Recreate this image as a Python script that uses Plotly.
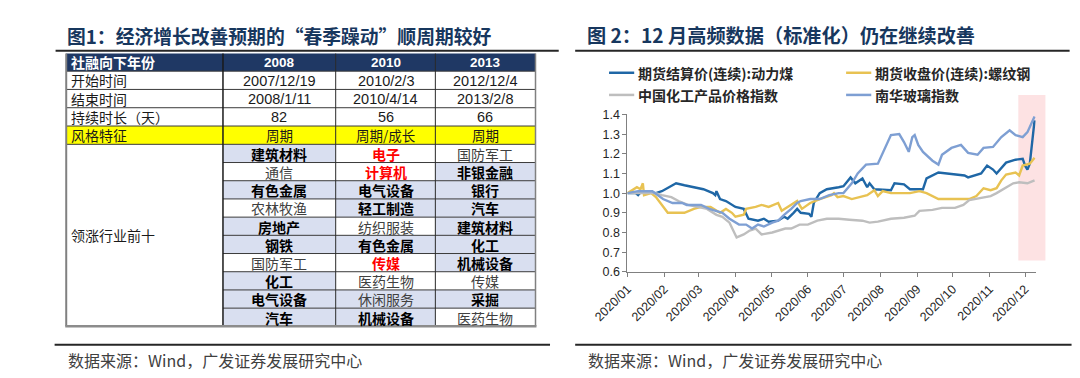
import plotly.graph_objects as go

W, H = 1080, 378

# ---------------- data: table ----------------
header = ["社融向下年份", "2008", "2010", "2013"]
row_labels = ["开始时间", "结束时间", "持续时长（天）", "风格特征"]
start_dates = ["2007/12/19", "2010/2/3", "2012/12/4"]
end_dates = ["2008/1/11", "2010/4/14", "2013/2/8"]
durations = ["82", "56", "66"]
styles = ["周期", "周期/成长", "周期"]
lead_label = "领涨行业前十"
lead_2008 = ["建筑材料", "通信", "有色金属", "农林牧渔", "房地产", "钢铁", "国防军工", "化工", "电气设备", "汽车"]
lead_2010 = ["电子", "计算机", "电气设备", "轻工制造", "纺织服装", "有色金属", "传媒", "医药生物", "休闲服务", "机械设备"]
lead_2013 = ["国防军工", "非银金融", "银行", "汽车", "建筑材料", "化工", "机械设备", "传媒", "采掘", "医药生物"]
# b = bold (shaded), n = normal, r = red highlight
kind_2008 = ["b", "n", "b", "n", "b", "b", "n", "b", "b", "b"]
kind_2010 = ["r", "r", "b", "b", "n", "b", "r", "n", "n", "b"]
kind_2013 = ["n", "b", "b", "b", "b", "b", "b", "n", "b", "n"]
shade_2010 = [0, 0, 1, 1, 0, 1, 0, 0, 1, 1]

# ---------------- data: line chart ----------------
coal_dates = ["2020-01-01", "2020-01-08", "2020-01-10", "2020-01-13", "2020-01-25", "2020-01-30", "2020-02-05",
              "2020-02-11", "2020-02-18", "2020-02-26", "2020-03-05", "2020-03-13", "2020-03-15", "2020-03-16",
              "2020-03-19", "2020-03-24", "2020-04-01", "2020-04-08", "2020-04-12", "2020-04-20", "2020-04-25",
              "2020-04-29", "2020-05-07", "2020-05-12", "2020-05-15", "2020-05-20", "2020-05-23", "2020-05-26",
              "2020-06-02", "2020-06-04", "2020-06-06", "2020-06-11", "2020-06-17", "2020-06-27", "2020-07-01",
              "2020-07-07", "2020-07-11", "2020-07-17", "2020-07-21", "2020-07-23", "2020-07-27", "2020-08-10",
              "2020-08-13", "2020-08-21", "2020-08-26", "2020-09-06", "2020-09-09", "2020-09-19", "2020-09-28",
              "2020-10-11", "2020-10-14", "2020-10-25", "2020-10-30", "2020-11-04", "2020-11-07", "2020-11-15",
              "2020-11-23", "2020-11-29", "2020-12-01", "2020-12-03", "2020-12-05", "2020-12-09"]
coal_vals = [1.00, 1.00, 0.99, 1.01, 1.00, 1.01, 1.03,
             1.05, 1.04, 1.03, 1.02, 1.00, 0.99, 1.01,
             0.97, 0.96, 0.93, 0.92, 0.87, 0.86, 0.87,
             0.855, 0.86, 0.88, 0.87, 0.90, 0.92, 0.90,
             0.895, 0.88, 0.95, 1.00, 1.02, 1.03, 1.035,
             1.08, 1.05, 1.075, 1.03, 1.05, 1.02, 1.015,
             1.05, 1.045, 1.02, 1.02, 1.075, 1.105, 1.10,
             1.09, 1.08, 1.10, 1.14, 1.12, 1.10, 1.155,
             1.17, 1.175, 1.14, 1.12, 1.15, 1.37]

rebar_dates = ["2020-01-01", "2020-01-09", "2020-01-12", "2020-01-14", "2020-01-15", "2020-01-21", "2020-01-25",
               "2020-02-04", "2020-02-18", "2020-02-26", "2020-03-03", "2020-03-11", "2020-03-19", "2020-03-24",
               "2020-03-29", "2020-04-01", "2020-04-08", "2020-04-10", "2020-04-18", "2020-04-23", "2020-04-29",
               "2020-05-07", "2020-05-10", "2020-05-15", "2020-05-23", "2020-05-27", "2020-06-03", "2020-06-11",
               "2020-06-17", "2020-06-21", "2020-06-23", "2020-06-26", "2020-07-01", "2020-07-08", "2020-07-21",
               "2020-07-27", "2020-07-30", "2020-08-03", "2020-08-10", "2020-08-26", "2020-09-03", "2020-09-09",
               "2020-09-19", "2020-10-03", "2020-10-15", "2020-10-21", "2020-10-27", "2020-11-02", "2020-11-07",
               "2020-11-11", "2020-11-15", "2020-11-23", "2020-11-26", "2020-11-29", "2020-12-05", "2020-12-09"]
rebar_vals = [1.00, 1.03, 1.02, 1.05, 0.99, 1.00, 0.98,
              0.90, 0.90, 0.92, 0.93, 0.93, 0.90, 0.92,
              0.90, 0.88, 0.89, 0.92, 0.93, 0.94, 0.93,
              0.95, 0.91, 0.93, 0.96, 0.92, 0.95, 0.97,
              0.98, 0.99, 1.00, 0.98, 0.985, 0.97, 0.99,
              1.015, 0.985, 1.01, 1.00, 1.00, 1.01, 1.00,
              0.97, 0.97, 0.97, 0.985, 1.025, 1.015, 1.025,
              1.065, 1.095, 1.105, 1.09, 1.14, 1.15, 1.18]

chem_dates = ["2020-01-01", "2020-01-25", "2020-01-30", "2020-02-07", "2020-02-13", "2020-02-21", "2020-02-29",
              "2020-03-08", "2020-03-16", "2020-03-21", "2020-03-27", "2020-03-31", "2020-04-02", "2020-04-08",
              "2020-04-13", "2020-04-18", "2020-04-23", "2020-05-02", "2020-05-13", "2020-05-18", "2020-05-25",
              "2020-06-01", "2020-06-09", "2020-06-17", "2020-06-27", "2020-07-06", "2020-07-17", "2020-07-23",
              "2020-07-30", "2020-08-10", "2020-08-21", "2020-08-30", "2020-09-03", "2020-09-14", "2020-09-22",
              "2020-10-03", "2020-10-10", "2020-10-15", "2020-10-25", "2020-11-02", "2020-11-07", "2020-11-14",
              "2020-11-21", "2020-11-26", "2020-12-03", "2020-12-09"]
chem_vals = [1.00, 1.00, 0.99, 0.98, 0.96, 0.94, 0.93,
             0.92, 0.89, 0.88, 0.85, 0.80, 0.775, 0.79,
             0.81, 0.82, 0.79, 0.80, 0.82, 0.82, 0.84,
             0.84, 0.86, 0.87, 0.87, 0.865, 0.86, 0.85,
             0.855, 0.87, 0.875, 0.885, 0.91, 0.915, 0.925,
             0.925, 0.94, 0.965, 0.975, 0.985, 1.00, 1.025,
             1.05, 1.055, 1.05, 1.065]

glass_dates = ["2020-01-01", "2020-01-10", "2020-01-22", "2020-01-31", "2020-02-08", "2020-02-16", "2020-02-20",
               "2020-03-03", "2020-03-10", "2020-03-16", "2020-03-21", "2020-03-27", "2020-04-04", "2020-04-10",
               "2020-04-15", "2020-04-20", "2020-04-25", "2020-05-02", "2020-05-07", "2020-05-12", "2020-05-18",
               "2020-05-23", "2020-05-26", "2020-06-03", "2020-06-11", "2020-06-19", "2020-06-27", "2020-07-01",
               "2020-07-08", "2020-07-13", "2020-07-20", "2020-07-30", "2020-08-06", "2020-08-10", "2020-08-17",
               "2020-08-21", "2020-08-25", "2020-08-28", "2020-08-30", "2020-09-02", "2020-09-06", "2020-09-14",
               "2020-09-19", "2020-09-22", "2020-09-30", "2020-10-08", "2020-10-14", "2020-10-22", "2020-10-27",
               "2020-11-04", "2020-11-11", "2020-11-18", "2020-11-23", "2020-11-29", "2020-12-03", "2020-12-09"]
glass_vals = [1.00, 1.01, 1.01, 0.97, 0.95, 0.95, 0.94,
              0.94, 0.92, 0.91, 0.90, 0.87, 0.84, 0.84,
              0.82, 0.84, 0.83, 0.85, 0.86, 0.89, 0.92,
              0.95, 0.96, 0.97, 0.97, 0.99, 1.00, 1.00,
              1.05, 1.10, 1.145, 1.15, 1.245, 1.295, 1.30,
              1.26, 1.21, 1.285, 1.295, 1.245, 1.21, 1.165,
              1.145, 1.195, 1.23, 1.245, 1.205, 1.195, 1.23,
              1.235, 1.285, 1.32, 1.295, 1.285, 1.31, 1.39]

series_names = ["期货结算价(连续):动力煤", "期货收盘价(连续):螺纹钢", "中国化工产品价格指数", "南华玻璃指数"]
series_colors = ["#1F67A6", "#E8C252", "#BEBEBE", "#7E9FD3"]
month_ticks = ["2020-%02d-01" % m for m in range(1, 13)]
month_labels = ["2020/%02d" % m for m in range(1, 13)]

# ---------------- helpers ----------------
def X(px):
    return px / W

def Y(py):
    return 1 - py / H

shapes = []
annotations = []

def rect(x0, y0, x1, y1, fill, layer="above"):
    shapes.append(dict(type="rect", xref="paper", yref="paper", x0=X(x0), x1=X(x1), y0=Y(y1), y1=Y(y0),
                       fillcolor=fill, line=dict(width=0), layer=layer))

def hline(x0, x1, y, color, w):
    shapes.append(dict(type="line", xref="paper", yref="paper", x0=X(x0), x1=X(x1), y0=Y(y), y1=Y(y),
                       line=dict(color=color, width=w)))

def vline(x, y0, y1, color, w):
    shapes.append(dict(type="line", xref="paper", yref="paper", x0=X(x), x1=X(x), y0=Y(y0), y1=Y(y1),
                       line=dict(color=color, width=w)))

CJK = "Noto Sans CJK SC"
NUM = "Liberation Sans, Arial, Noto Sans CJK SC"

def text(x, y, s, size, color="#000000", family=CJK, anchor="left"):
    annotations.append(dict(xref="paper", yref="paper", x=X(x), y=Y(y), text=s, showarrow=False,
                            xanchor=anchor, yanchor="middle", borderpad=0,
                            font=dict(size=size, color=color, family=family)))

# ---------------- titles / frame lines ----------------
title_color = "#17375E"
text(24, 21, "<b>图1：经济增长改善预期的“春季躁动”顺周期较好</b>", 18.8, title_color)
text(561, 21, "<b>图 2：12 月高频数据（标准化）仍在继续改善</b>", 19.2, title_color)
hline(13, 533, 37, "#262626", 2)
hline(550, 1061, 37, "#262626", 2)
hline(12, 524, 342.5, "#262626", 2)
hline(550, 1063, 342.5, "#262626", 2)
text(25, 358, "数据来源：Wind，广发证券发展研究中心", 16, "#404040")
text(562, 358, "数据来源：Wind，广发证券发展研究中心", 16, "#404040")

# ---------------- table ----------------
cx = [24, 186, 302.5, 405.5, 509]
top_rows = [40, 58.3, 77.3, 96.3, 115.3, 134.3]
lower_h = (323.3 - 134.3) / 10
lower_rows = [134.3 + i * lower_h for i in range(11)]

navy = "#1F3864"
shade = "#D9DFF0"
rect(cx[0], top_rows[0], cx[4], top_rows[1], navy)
rect(cx[0], top_rows[4], cx[4], top_rows[5], "#FFFF00")

cols_text = [lead_2008, lead_2010, lead_2013]
cols_kind = [kind_2008, kind_2010, kind_2013]
for ci in range(3):
    for ri in range(10):
        k = cols_kind[ci][ri]
        shaded = (k == "b") if ci != 1 else bool(shade_2010[ri])
        if shaded:
            rect(cx[ci + 1], lower_rows[ri], cx[ci + 2], lower_rows[ri + 1], shade)

# grid lines
for y in top_rows[1:]:
    hline(cx[0], cx[4], y, "#3A3A3A", 1)
for y in lower_rows[1:-1]:
    hline(cx[1], cx[4], y, "#3A3A3A", 1)
vline(cx[1], top_rows[0], lower_rows[-1], "#1A1A1A", 1.5)
vline(cx[2], top_rows[0], lower_rows[-1], "#2A2A2A", 1)
vline(cx[3], top_rows[0], lower_rows[-1], "#2A2A2A", 1)
vline(cx[4], top_rows[0], lower_rows[-1], "#808080", 1.5)
vline(cx[0], top_rows[0], lower_rows[-1], "#808080", 2)
hline(cx[0] - 1, cx[4] + 1, lower_rows[-1], "#8C8C8C", 2.5)

# header text
mid = lambda a, b: (a + b) / 2
text(cx[0] + 4, mid(top_rows[0], top_rows[1]), "<b>" + header[0] + "</b>", 14, "white")
for i in range(3):
    text(mid(cx[i + 1], cx[i + 2]), mid(top_rows[0], top_rows[1]) + 0.5, "<b>" + header[i + 1] + "</b>", 13.5,
         "white", NUM, "center")

row_vals = [start_dates, end_dates, durations, styles]
for r in range(4):
    yc = mid(top_rows[r + 1], top_rows[r + 2])
    text(cx[0] + 4, yc, row_labels[r], 14, "#1A1A1A")
    for i in range(3):
        if r == 3:
            text(mid(cx[i + 1], cx[i + 2]), yc - 0.3, row_vals[r][i], 13.5, "#1A1A1A", CJK, "center")
        else:
            text(mid(cx[i + 1], cx[i + 2]), yc + 0.5, row_vals[r][i], 14.5, "#1A1A1A", NUM, "center")

text(cx[0] + 4, mid(lower_rows[0], lower_rows[-1]), lead_label, 14, "#1A1A1A")
for ci in range(3):
    for ri in range(10):
        k = cols_kind[ci][ri]
        s = cols_text[ci][ri]
        if k == "b":
            s, col = "<b>" + s + "</b>", "#000000"
        elif k == "r":
            s, col = "<b>" + s + "</b>", "#FF0000"
        else:
            col = "#404040"
        text(mid(cx[ci + 1], cx[ci + 2]), mid(lower_rows[ri], lower_rows[ri + 1]) + 0.3, s, 14, col, CJK, "center")

# ---------------- chart ----------------
rect(1008, 83, 1036, 255, "#FDE2E3", layer="below")

fig = go.Figure()
all_dates = [coal_dates, rebar_dates, chem_dates, glass_dates]
all_vals = [coal_vals, rebar_vals, chem_vals, glass_vals]
for d, v, n, c in zip(all_dates, all_vals, series_names, series_colors):
    fig.add_trace(go.Scatter(x=d, y=v, name=n, mode="lines", line=dict(color=c, width=2.4), showlegend=False))

# manual legend
leg_pos = [(585, 60), (830, 60), (585, 83), (830, 83)]
for (lx, ly), n, c in zip(leg_pos, series_names, series_colors):
    hline(lx, lx + 26, ly, c, 2.5)
    text(lx + 29, ly, "<b>" + n + "</b>", 14, "#262626")

fig.update_layout(
    width=W, height=H,
    margin=dict(l=0, r=0, t=0, b=0),
    paper_bgcolor="white", plot_bgcolor="rgba(0,0,0,0)",
    shapes=shapes, annotations=annotations,
    xaxis=dict(domain=[X(604), X(1026)], type="date", range=["2020-01-01", "2020-12-10"],
               tickvals=month_ticks, ticktext=month_labels, tickangle=-45,
               showgrid=False, zeroline=False, showline=True, linecolor="#808080", linewidth=1,
               ticks="outside", ticklen=4, tickcolor="#808080",
               tickfont=dict(family="Liberation Sans, Arial", size=12.5, color="#262626")),
    yaxis=dict(domain=[Y(266.7), Y(103.3)], range=[0.6, 1.4], dtick=0.1, tickformat=".1f",
               showgrid=False, zeroline=False, showline=True, linecolor="#808080", linewidth=1,
               ticks="outside", ticklen=4, tickcolor="#808080",
               tickfont=dict(family="Liberation Sans, Arial", size=12.5, color="#262626")),
)

fig.write_html("out.html")
